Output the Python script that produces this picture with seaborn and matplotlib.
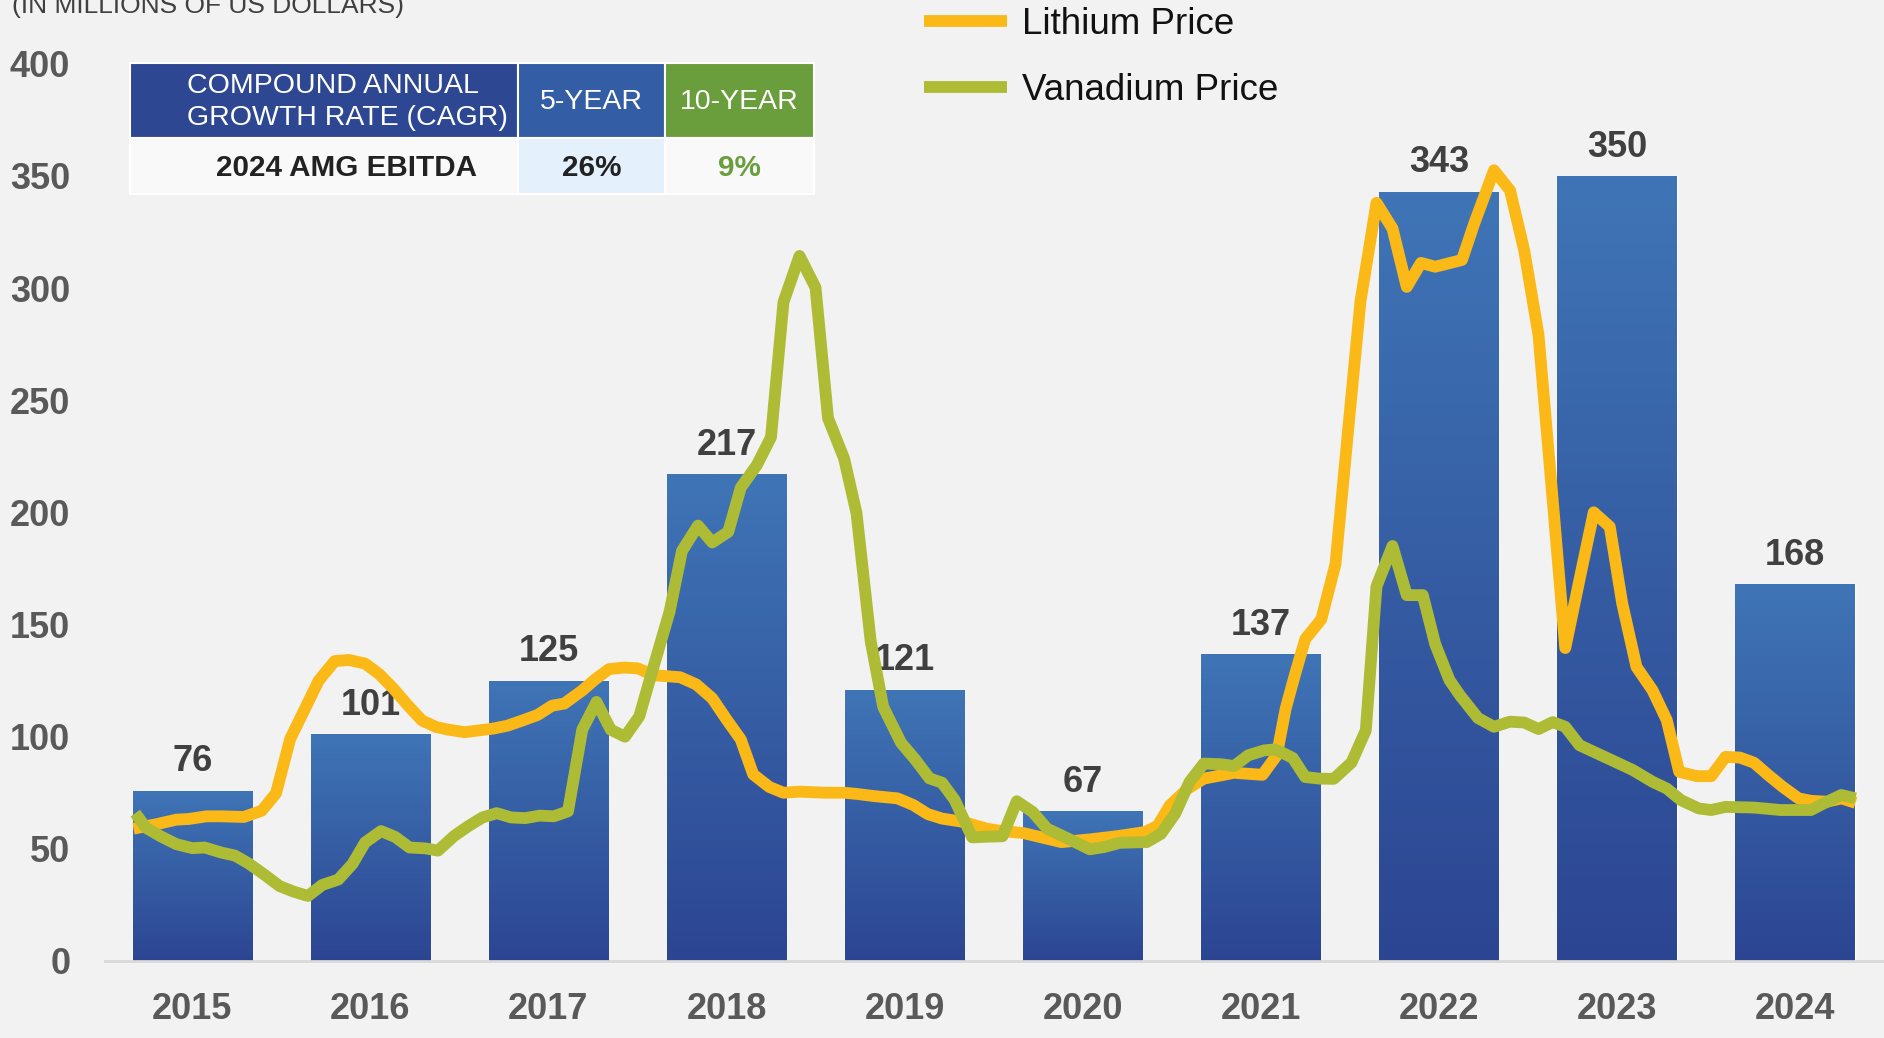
import numpy as np
import matplotlib.pyplot as plt
import seaborn as sns
from matplotlib.colors import LinearSegmentedColormap
from matplotlib.patches import Rectangle

# --- DATA ---
YEARS = ["2015", "2016", "2017", "2018", "2019", "2020", "2021", "2022", "2023", "2024"]
EBITDA = [76, 101, 125, 217, 121, 67, 137, 343, 350, 168]

# price curves (decimal year, value on the EBITDA scale)
LITHIUM_T = [2014.67, 2014.80, 2014.91, 2014.98, 2015.08, 2015.16, 2015.29, 2015.39, 2015.47, 2015.55,
             2015.63, 2015.71, 2015.80, 2015.88, 2015.97, 2016.05, 2016.13, 2016.21, 2016.29, 2016.37,
             2016.44, 2016.53, 2016.61, 2016.69, 2016.77, 2016.85, 2016.94, 2017.02, 2017.09, 2017.19,
             2017.26, 2017.34, 2017.42, 2017.50, 2017.59, 2017.74, 2017.83, 2017.92, 2018.00, 2018.08,
             2018.15, 2018.24, 2018.32, 2018.41, 2018.56, 2018.66, 2018.73, 2018.83, 2018.96, 2019.05,
             2019.13, 2019.21, 2019.33, 2019.46, 2019.54, 2019.67, 2019.88, 2020.04, 2020.20, 2020.35,
             2020.42, 2020.49, 2020.59, 2020.68, 2020.78, 2020.85, 2021.01, 2021.09, 2021.14, 2021.19,
             2021.25, 2021.34, 2021.42, 2021.49, 2021.56, 2021.65, 2021.74, 2021.82, 2021.90, 2021.98,
             2022.13, 2022.20, 2022.31, 2022.40, 2022.48, 2022.56, 2022.64, 2022.71, 2022.79, 2022.87,
             2022.96, 2023.03, 2023.11, 2023.20, 2023.28, 2023.35, 2023.45, 2023.53, 2023.61, 2023.69,
             2023.77, 2023.85, 2023.93, 2024.02, 2024.09, 2024.18, 2024.26, 2024.34]
LITHIUM = [59.0, 61.0, 63.0, 63.3, 64.5, 64.5, 64.2, 67.0, 74.7, 99.0,
           112.0, 125.0, 133.7, 134.2, 132.6, 127.9, 121.4, 114.0, 107.2, 104.3,
           103.1, 102.0, 102.8, 103.6, 104.9, 107.1, 109.7, 113.8, 114.8, 120.6,
           125.4, 130.1, 130.8, 130.5, 127.4, 126.5, 123.3, 117.1, 107.7, 98.8,
           83.2, 77.6, 75.0, 75.5, 75.0, 75.0, 74.5, 73.5, 72.5, 69.5,
           65.5, 63.5, 62.0, 59.0, 58.0, 57.0, 53.0, 54.2, 55.7, 57.5,
           60.2, 69.4, 76.8, 81.3, 82.8, 83.9, 83.0, 91.7, 112.5, 127.0,
           143.5, 152.3, 177.0, 236.0, 294.0, 338.0, 326.5, 300.5, 311.2, 309.5,
           312.5, 329.0, 352.5, 343.5, 316.6, 279.0, 205.0, 139.5, 170.0, 200.0,
           193.6, 159.4, 131.1, 120.7, 107.4, 84.3, 82.4, 82.4, 91.0, 90.7,
           88.4, 82.9, 77.7, 72.5, 71.4, 71.0, 72.5, 70.5]

VANADIUM_T = [2014.68, 2014.74, 2014.82, 2014.91, 2015.00, 2015.07, 2015.16, 2015.24, 2015.32, 2015.41,
              2015.49, 2015.57, 2015.65, 2015.73, 2015.82, 2015.90, 2015.97, 2016.06, 2016.14, 2016.22,
              2016.31, 2016.38, 2016.47, 2016.55, 2016.63, 2016.71, 2016.79, 2016.87, 2016.95, 2017.03,
              2017.11, 2017.19, 2017.27, 2017.35, 2017.43, 2017.51, 2017.59, 2017.68, 2017.75, 2017.84,
              2017.92, 2018.01, 2018.08, 2018.17, 2018.25, 2018.32, 2018.41, 2018.50, 2018.57, 2018.66,
              2018.73, 2018.81, 2018.88, 2018.98, 2019.06, 2019.14, 2019.21, 2019.28, 2019.38, 2019.46,
              2019.55, 2019.63, 2019.72, 2019.80, 2019.92, 2020.04, 2020.12, 2020.21, 2020.36, 2020.44,
              2020.52, 2020.60, 2020.68, 2020.78, 2020.85, 2020.93, 2021.02, 2021.08, 2021.13, 2021.18,
              2021.25, 2021.33, 2021.41, 2021.51, 2021.59, 2021.65, 2021.74, 2021.82, 2021.91, 2021.98,
              2022.06, 2022.12, 2022.22, 2022.31, 2022.40, 2022.48, 2022.56, 2022.64, 2022.71, 2022.79,
              2022.95, 2023.09, 2023.20, 2023.28, 2023.36, 2023.46, 2023.53, 2023.61, 2023.77, 2023.92,
              2024.09, 2024.16, 2024.26, 2024.34]
VANADIUM = [65.9, 59.4, 55.7, 52.1, 50.3, 50.6, 48.4, 47.0, 43.3, 38.2,
            33.4, 30.9, 29.0, 33.9, 36.3, 43.3, 52.8, 57.9, 55.3, 50.6,
            50.2, 49.2, 55.7, 60.1, 64.0, 65.9, 64.0, 63.7, 64.8, 64.5,
            66.7, 103.1, 115.5, 103.1, 100.0, 109.0, 131.1, 155.6, 182.8, 194.1,
            186.6, 191.3, 211.0, 221.0, 233.5, 293.7, 314.3, 300.2, 242.0, 224.1,
            199.7, 142.4, 113.3, 97.3, 89.8, 81.4, 79.5, 72.0, 55.1, 55.4,
            55.6, 71.2, 66.4, 59.0, 54.5, 49.8, 50.8, 52.7, 53.0, 56.7,
            65.7, 79.8, 88.0, 87.7, 86.9, 91.7, 93.9, 94.3, 92.5, 90.5,
            82.0, 81.3, 81.2, 88.5, 102.8, 167.0, 185.0, 163.1, 163.1, 141.2,
            125.2, 118.3, 108.3, 104.4, 106.7, 106.3, 103.4, 106.5, 104.4, 96.2,
            90.3, 85.1, 79.9, 76.9, 71.7, 68.0, 67.3, 68.7, 68.4, 67.3,
            67.3, 70.2, 74.0, 72.5]

CAGR_HEADER = ["COMPOUND ANNUAL\nGROWTH RATE (CAGR)", "5-YEAR", "10-YEAR"]
CAGR_ROW = ["2024 AMG EBITDA", "26%", "9%"]

# --- STYLE ---
BG = "#F2F2F2"
LITHIUM_COLOR = "#FBB917"
VANADIUM_COLOR = "#ADBB35"
BAR_TOP = "#3F75B6"
BAR_BOTTOM = "#2C4592"
TICK_COLOR = "#595959"

sns.set_theme(style="white")
plt.rcParams["font.family"] = ["Liberation Sans", "DejaVu Sans"]

W, H = 1884, 1038
fig = plt.figure(figsize=(W / 100, H / 100), dpi=100)
fig.patch.set_facecolor(BG)

ax = fig.add_axes([105 / W, 77 / H, (W - 105) / W, 897.3 / H])
ax.set_facecolor(BG)

sns.barplot(x=YEARS, y=EBITDA, color=BAR_BOTTOM, width=0.67, errorbar=None, ax=ax)

# gradient fill inside each bar
cmap = LinearSegmentedColormap.from_list("barra", [BAR_BOTTOM, BAR_TOP])
grad = np.linspace(0, 1, 256).reshape(-1, 1)
for bar in ax.patches:
    x0, w, h = bar.get_x(), bar.get_width(), bar.get_height()
    img = ax.imshow(grad, extent=[x0, x0 + w, 0, h], origin="lower", aspect="auto",
                    cmap=cmap, zorder=bar.get_zorder() + 0.1)
    img.set_clip_path(bar)

ax.bar_label(ax.containers[0], padding=8, fontsize=26, fontweight="bold", color="#404040", zorder=3)

base = int(YEARS[0])
ax.plot(np.array(LITHIUM_T) - base, LITHIUM, color=LITHIUM_COLOR, lw=8.5,
        solid_joinstyle="round", solid_capstyle="butt", zorder=4, label="Lithium Price")
ax.plot(np.array(VANADIUM_T) - base, VANADIUM, color=VANADIUM_COLOR, lw=8.5,
        solid_joinstyle="round", solid_capstyle="butt", zorder=5, label="Vanadium Price")

ax.set_xlim(-0.49, 9.5)
ax.set_ylim(0, 400)
ax.set_yticks(range(0, 401, 50))
ax.set_xlabel("")
ax.set_ylabel("")
for side in ["top", "right", "left"]:
    ax.spines[side].set_visible(False)
ax.spines["bottom"].set_color("#D9D9D9")
ax.spines["bottom"].set_linewidth(2)
ax.tick_params(axis="x", length=0, pad=22, labelsize=26, labelcolor=TICK_COLOR)
ax.tick_params(axis="y", length=0, pad=25, labelsize=26, labelcolor=TICK_COLOR)
for lbl in ax.get_xticklabels() + ax.get_yticklabels():
    lbl.set_fontweight("bold")

fig.legend(loc="upper left", bbox_to_anchor=(924 / W, 1 - 7 / H), frameon=False, fontsize=26.5,
           handlelength=2.25, handletextpad=0.41, labelspacing=0.85, borderpad=0, borderaxespad=0,
           labelcolor="#111111")

fig.text(12 / W, 1 - 13 / H, "(IN MILLIONS OF US DOLLARS)", fontsize=19, color="#404040", va="baseline")

# CAGR table, drawn in pixel coordinates
tab = fig.add_axes([0, 0, 1, 1], zorder=10)
tab.set_xlim(0, W)
tab.set_ylim(H, 0)
tab.axis("off")
cols = [130, 518, 665, 814]
head_fill = ["#2E4793", "#335DA4", "#6A9E3D"]
row_fill = ["#F9F9F9", "#E4F0FC", "#F9F9F9"]
row_color = ["#222222", "#222222", "#6A9E3D"]
text_x = [347, 591.5, 739.5]
for i in range(3):
    tab.add_patch(Rectangle((cols[i], 63), cols[i + 1] - cols[i], 75, facecolor=head_fill[i],
                            edgecolor="white", lw=1.5))
    tab.add_patch(Rectangle((cols[i], 138), cols[i + 1] - cols[i], 56, facecolor=row_fill[i],
                            edgecolor="white", lw=1.5))
    tab.text(text_x[i], 102, CAGR_HEADER[i], ha="center", va="center", multialignment="left",
             fontsize=20.5, color="white", linespacing=1.3)
    tab.text(text_x[i], 168, CAGR_ROW[i], ha="center", va="center", fontsize=21.3,
             fontweight="bold", color=row_color[i])

fig.savefig("out.png", dpi=100, facecolor=BG)
